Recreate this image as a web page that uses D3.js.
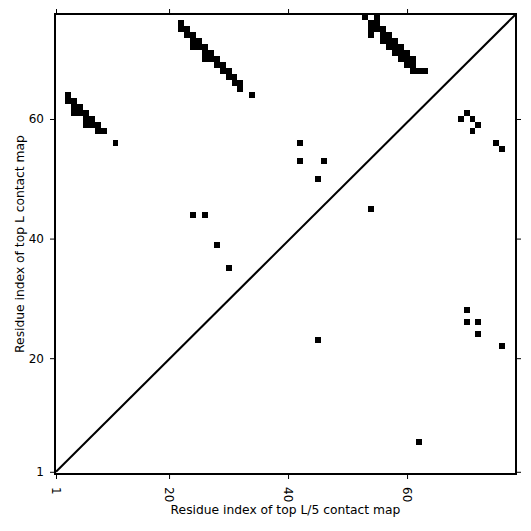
<!DOCTYPE html>
<html>
<head>
<meta charset="utf-8">
<script src="https://cdn.jsdelivr.net/npm/d3@7"></script>
<style>
  body { margin: 0; background: #fff; }
  text { font-family: "DejaVu Sans", sans-serif; }
</style>
</head>
<body>
<div id="chart"></div>
<script>
// contacts above the diagonal (top L), [residue i, residue j]
var topLContacts = [
    [3,64],
    [3,63],[4,63],
    [4,62],[5,62],
    [4,61],[5,61],[6,61],
    [6,60],[7,60],
    [6,59],[7,59],[8,59],
    [8,58],[9,58],
    [11,56],
    [22,76],
    [22,75],[23,75],
    [23,74],[24,74],
    [24,73],[25,73],
    [24,72],[25,72],[26,72],
    [26,71],[27,71],
    [26,70],[27,70],[28,70],
    [28,69],[29,69],
    [29,68],[30,68],
    [30,67],[31,67],
    [31,66],[32,66],
    [32,65],
    [34,64],
    [53,77],[55,77],
    [54,76],[55,76],
    [54,75],[55,75],[56,75],
    [54,74],[56,74],[57,74],
    [56,73],[57,73],[58,73],
    [57,72],[58,72],[59,72],
    [58,71],[59,71],[60,71],
    [59,70],[60,70],[61,70],
    [60,69],[61,69],
    [61,68],[62,68],[63,68],
    [42,56],[42,53],[46,53],[45,50],
    [24,44],[26,44],[28,39],[30,35],[54,45]
];

// contacts below the diagonal (top L/5)
var topL5Contacts = [
    [70,61],[69,60],[71,60],[72,59],[71,58],[75,56],[76,55],
    [70,28],[70,26],[72,26],[72,24],[76,22],
    [45,23],[62,6]
];

var xTicks = [1, 20, 40, 60];
var yTicks = [1, 20, 40, 60];
var xTitle = "Residue index of top L/5 contact map";
var yTitle = "Residue index of top L contact map";

function init(){

    var W = 531;
    var H = 531;
    var left = 55, right = 516, top = 14, bottom = 474;

    var xScale = d3.scaleLinear()
                    .domain([0.83, 78.31])
                    .range([left, right]);
    var yScale = d3.scaleLinear()
                    .domain([0.63, 77.56])
                    .range([bottom, top]);

    var svg = d3.select("#chart")
                .append("svg")
                .attr("width", W)
                .attr("height", H);

    svg.append("clipPath")
        .attr("id", "plot-clip")
        .append("rect")
        .attr("x", left)
        .attr("y", top)
        .attr("width", right - left)
        .attr("height", bottom - top);

    var plot = svg.append("g").attr("clip-path", "url(#plot-clip)");

    var cells = topLContacts.concat(topL5Contacts);

    plot.selectAll("rect.cell")
        .data(cells)
        .enter()
        .append("rect")
        .attr("class", "cell")
        .attr("x", function(d){ return xScale(d[0] - 0.5); })
        .attr("y", function(d){ return yScale(d[1] + 0.5); })
        .attr("width", function(d){ return xScale(d[0] + 0.5) - xScale(d[0] - 0.5); })
        .attr("height", function(d){ return yScale(d[1] - 0.5) - yScale(d[1] + 0.5); })
        .attr("shape-rendering", "crispEdges")
        .attr("fill", "#000");

    // diagonal
    var xd = xScale.domain(), yd = yScale.domain();
    plot.append("line")
        .attr("x1", xScale(1))
        .attr("y1", yScale(1))
        .attr("x2", xScale(xd[1]))
        .attr("y2", yScale(yd[1]))
        .attr("stroke", "#000")
        .attr("stroke-width", 2);

    // axes
    var xAxis = svg.append("g")
        .attr("transform", "translate(0," + bottom + ")")
        .call(d3.axisBottom(xScale).tickValues(xTicks).tickSize(5).tickFormat(d3.format("d")));
    xAxis.selectAll("text")
        .attr("transform", "rotate(90)")
        .attr("x", 13)
        .attr("y", 0)
        .attr("dy", "0.35em")
        .style("text-anchor", "start");

    var yAxis = svg.append("g")
        .attr("transform", "translate(" + left + ",0)")
        .call(d3.axisLeft(yScale).tickValues(yTicks).tickSize(5).tickPadding(6).tickFormat(d3.format("d")));

    svg.append("g")
        .attr("transform", "translate(0," + top + ")")
        .call(d3.axisTop(xScale).tickValues(xTicks).tickSize(5).tickFormat(""));
    svg.append("g")
        .attr("transform", "translate(" + right + ",0)")
        .call(d3.axisRight(yScale).tickValues(yTicks).tickSize(5).tickFormat(""));

    svg.selectAll(".domain").remove();
    svg.selectAll(".tick line").attr("stroke", "#000").attr("stroke-width", 1);
    svg.selectAll(".tick text")
        .attr("fill", "#000")
        .style("font-size", "12px")
        .style("font-family", "DejaVu Sans");

    // frame
    svg.append("rect")
        .attr("x", left)
        .attr("y", top)
        .attr("width", right - left)
        .attr("height", bottom - top)
        .attr("fill", "none")
        .attr("stroke", "#000")
        .attr("stroke-width", 2);

    svg.append("text")
        .attr("x", (left + right) / 2)
        .attr("y", 514)
        .attr("text-anchor", "middle")
        .style("font-size", "12.3px")
        .text(xTitle);

    svg.append("text")
        .attr("transform", "translate(20," + ((top + bottom) / 2) + ") rotate(-90)")
        .attr("dy", "0.35em")
        .attr("text-anchor", "middle")
        .style("font-size", "12.3px")
        .text(yTitle);
}
window.onload = init;
</script>
</body>
</html>
